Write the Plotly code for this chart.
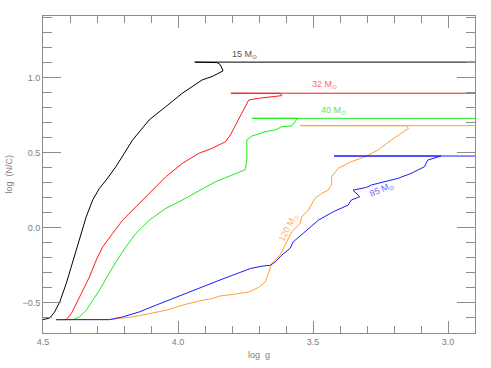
import plotly.graph_objects as go

# 15 Msun track
g15 = [4.50, 4.475, 4.457, 4.438, 4.414, 4.389, 4.365, 4.340, 4.316, 4.291, 4.266, 4.230, 4.168, 4.107,
       4.045, 3.984, 3.910, 3.874, 3.833, 3.843, 3.855, 3.938, 2.85]
nc15 = [-0.611, -0.60, -0.56, -0.493, -0.371, -0.215, -0.082, 0.073, 0.185, 0.263, 0.318, 0.407, 0.585, 0.718,
        0.807, 0.896, 0.985, 1.007, 1.045, 1.085, 1.10, 1.103, 1.103]

# 32 Msun track
g32 = [4.451, 4.414, 4.395, 4.377, 4.353, 4.328, 4.303, 4.279, 4.242, 4.205, 4.168, 4.132, 4.095, 4.045,
       3.984, 3.923, 3.874, 3.824, 3.806, 3.787, 3.775, 3.757, 3.738, 3.702, 3.653, 3.616, 3.62, 3.804, 2.85]
nc32 = [-0.611, -0.611, -0.571, -0.504, -0.415, -0.327, -0.215, -0.127, -0.037, 0.051, 0.118, 0.185, 0.251, 0.34,
        0.429, 0.496, 0.529, 0.573, 0.618, 0.685, 0.729, 0.785, 0.851, 0.862, 0.873, 0.88, 0.895, 0.896, 0.896]

# 40 Msun track
g40 = [4.451, 4.389, 4.365, 4.340, 4.316, 4.291, 4.266, 4.230, 4.193, 4.156, 4.107, 4.045, 3.984, 3.923,
       3.861, 3.800, 3.751, 3.745, 3.745, 3.726, 3.677, 3.640, 3.616, 3.579, 3.560, 3.557, 3.726, 2.85]
nc40 = [-0.611, -0.611, -0.593, -0.549, -0.482, -0.415, -0.337, -0.227, -0.127, -0.037, 0.051, 0.129, 0.185, 0.245,
        0.307, 0.351, 0.387, 0.45, 0.585, 0.611, 0.64, 0.651, 0.673, 0.678, 0.718, 0.729, 0.729, 0.729]

# 120 Msun track
g120 = [4.451, 4.254, 4.168, 4.107, 4.045, 3.984, 3.923, 3.874, 3.843, 3.800, 3.738, 3.702, 3.677, 3.665,
        3.653, 3.622, 3.603, 3.579, 3.548, 3.542, 3.517, 3.493, 3.468, 3.444, 3.431, 3.431, 3.407, 3.358,
        3.308, 3.259, 3.210, 3.173, 3.146, 3.155, 3.548, 2.85]
nc120 = [-0.611, -0.611, -0.593, -0.571, -0.549, -0.515, -0.487, -0.471, -0.453, -0.444, -0.427, -0.397, -0.36, -0.304,
         -0.237, -0.182, -0.115, -0.027, 0.029, 0.073, 0.118, 0.196, 0.229, 0.251, 0.29, 0.34, 0.396, 0.44,
         0.473, 0.518, 0.585, 0.629, 0.662, 0.68, 0.68, 0.68]

# 85 Msun track
g85 = [4.451, 4.254, 4.205, 4.144, 4.082, 4.021, 3.959, 3.898, 3.837, 3.775, 3.732, 3.689, 3.658, 3.640,
       3.616, 3.585, 3.573, 3.530, 3.480, 3.425, 3.370, 3.358, 3.327, 3.352, 3.302, 3.284, 3.235, 3.186,
       3.137, 3.087, 3.075, 3.039, 3.026, 3.422, 2.85]
nc85 = [-0.611, -0.611, -0.593, -0.56, -0.515, -0.471, -0.427, -0.382, -0.342, -0.3, -0.271, -0.255, -0.249, -0.227,
        -0.182, -0.137, -0.093, -0.027, 0.051, 0.107, 0.151, 0.185, 0.207, 0.251, 0.269, 0.285, 0.307, 0.329,
        0.362, 0.407, 0.451, 0.473, 0.478, 0.478, 0.478]

tracks = [
    (g15, nc15, "#000000"),
    (g32, nc32, "#ff1a1a"),
    (g40, nc40, "#1aee1a"),
    (g120, nc120, "#ffa030"),
    (g85, nc85, "#1a1aff"),
]

label_text = ["15 M<sub>⊙</sub>", "32 M<sub>⊙</sub>", "40 M<sub>⊙</sub>", "120 M<sub>⊙</sub>", "85 M<sub>⊙</sub>"]
label_x = [3.753, 3.458, 3.425, 3.591, 3.245]
label_y = [1.151, 0.951, 0.778, 0.004, 0.258]
label_color = ["#555555", "#ff6a6a", "#66dd66", "#ffb460", "#6a6aff"]
label_angle = [0, 0, 0, -62, -24]

x_ticks = [4.5, 4.0, 3.5, 3.0]
x_ticktext = ["4.5", "4.0", "3.5", "3.0"]
y_ticks = [-0.5, 0.0, 0.5, 1.0]
y_ticktext = ["\u22120.5", "0.0", "0.5", "1.0"]

fig = go.Figure()
for gx, ny, col in tracks:
    fig.add_trace(go.Scatter(x=gx, y=ny, mode="lines", line=dict(color=col, width=1), showlegend=False,
                             hoverinfo="skip"))

for t, lx, ly, c, a in zip(label_text, label_x, label_y, label_color, label_angle):
    fig.add_annotation(x=lx, y=ly, xref="x", yref="y", text=t, showarrow=False,
                       font=dict(color=c, size=9, family="Liberation Sans"), textangle=a)

# axis titles
fig.add_annotation(x=0.5, y=-0.069, xref="paper", yref="paper", text="log  g", showarrow=False,
                   xanchor="center", yanchor="middle", font=dict(size=9, color="#808080"))
fig.add_annotation(x=-0.081, y=0.5, xref="paper", yref="paper", text="log  (N/C)", showarrow=False,
                   xanchor="center", yanchor="middle", textangle=-90, font=dict(size=9, color="#808080"))

axcol = "#8c8c8c"
fig.update_layout(
    width=491, height=368,
    margin=dict(l=43, r=16, t=16, b=35),
    paper_bgcolor="white", plot_bgcolor="white",
    font=dict(family="Liberation Sans", size=9, color="#808080"),
    xaxis=dict(range=[4.5, 2.9], showgrid=False, zeroline=False, automargin=False,
               tickvals=x_ticks, ticktext=x_ticktext,
               ticks="inside", ticklen=12, tickwidth=1, tickcolor=axcol,
               minor=dict(dtick=0.1, tick0=0, ticks="inside", ticklen=7, tickcolor=axcol, tickwidth=1),
               showline=True, linecolor=axcol, linewidth=1, mirror="ticks"),
    yaxis=dict(range=[-0.7, 1.41], showgrid=False, zeroline=False, automargin=False,
               tickvals=y_ticks, ticktext=y_ticktext,
               ticks="inside", ticklen=18, tickwidth=1, tickcolor=axcol,
               minor=dict(dtick=0.1, tick0=0, ticks="inside", ticklen=9, tickcolor=axcol, tickwidth=1),
               showline=True, linecolor=axcol, linewidth=1, mirror="ticks"),
)

fig.write_html("out.html", config={"displayModeBar": False},
               post_script="document.body.style.margin='0';")
